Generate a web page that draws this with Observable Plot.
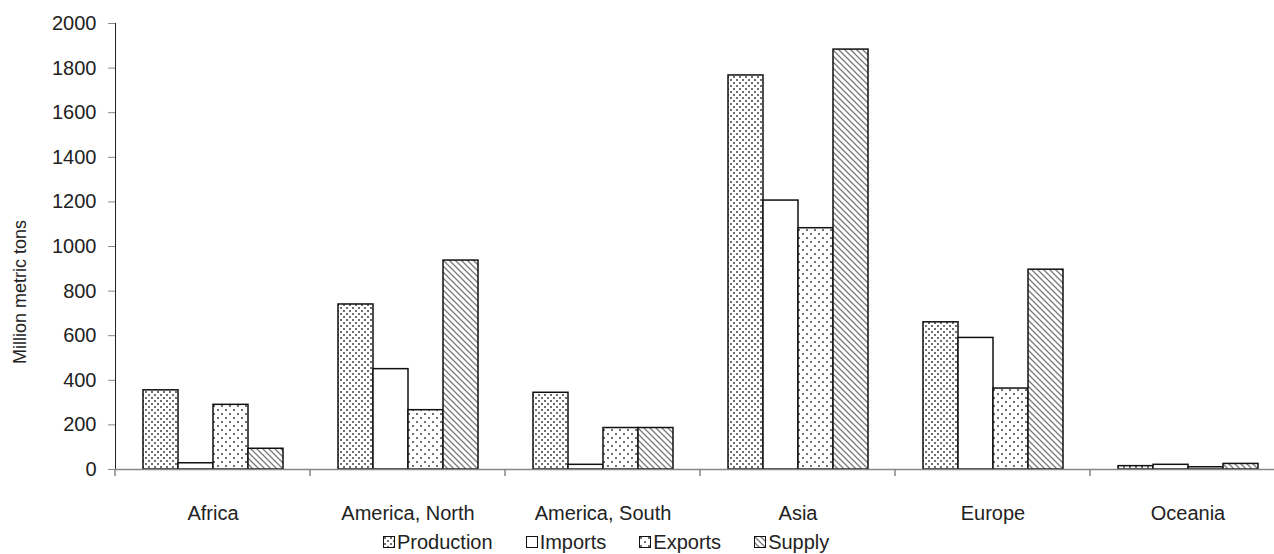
<!DOCTYPE html>
<html>
<head>
<meta charset="utf-8">
<script src="https://cdn.jsdelivr.net/npm/d3@7"></script>
<script src="https://cdn.jsdelivr.net/npm/@observablehq/plot@0.6"></script>
<style>
  html, body { margin: 0; padding: 0; background: #fff; overflow: hidden; }
  body { font-family: "Liberation Sans", Arial, sans-serif; color: #222; }
  #legend { width: 1274px; height: 24px; box-sizing: border-box; padding-left: 383px; display: flex; justify-content: flex-start; align-items: center; gap: 33px; font-size: 20px; line-height: 24px; }
  .item { display: flex; align-items: center; gap: 2px; }
  .item svg { display: block; }
  [aria-label^="y-axis"] path, [aria-label^="y-axis"] line, g[aria-label="y-axis tick"] { stroke: #868686; }
</style>
</head>
<body>
<svg width="0" height="0" style="position:absolute">
  <defs>
    <pattern id="p-Production" width="6" height="6" patternUnits="userSpaceOnUse">
      <rect width="6" height="6" fill="#fff"/>
      <rect x="1" y="1" width="2" height="2" fill="#707070"/>
      <rect x="4" y="4" width="2" height="2" fill="#707070"/>
    </pattern>
    <pattern id="p-Imports" width="6" height="6" patternUnits="userSpaceOnUse">
      <rect width="6" height="6" fill="#fff"/>
    </pattern>
    <pattern id="p-Exports" width="8" height="8" patternUnits="userSpaceOnUse">
      <rect width="8" height="8" fill="#fff"/>
      <rect x="1" y="1" width="2" height="2" fill="#707070"/>
      <rect x="5" y="5" width="2" height="2" fill="#707070"/>
    </pattern>
    <pattern id="p-Supply" width="6" height="6" patternUnits="userSpaceOnUse">
      <rect width="6" height="6" fill="#fff"/>
      <path d="M-1,-1L7,7M-1,5L1,7M5,-1L7,1" stroke="#7a7a7a" stroke-width="1.3"/>
    </pattern>
  </defs>
</svg>
<div id="chart"></div>
<div id="legend"></div>
<script>
const regions = ["Africa", "America, North", "America, South", "Asia", "Europe", "Oceania"];
const series = ["Production", "Imports", "Exports", "Supply"];
const production = [355, 740, 344, 1767, 660, 15];
const imports = [28, 450, 21, 1206, 590, 21];
const exportsV = [290, 266, 186, 1082, 363, 10];
const supply = [93, 937, 186, 1883, 896, 25];
const yTicks = [0, 200, 400, 600, 800, 1000, 1200, 1400, 1600, 1800, 2000];
const yLabel = "Million metric tons";

const columns = [production, imports, exportsV, supply];
const data = regions.flatMap((r, i) => series.map((s, j) => ({region: r, series: s, value: columns[j][i]})));

const chart = Plot.plot({
  width: 1285,
  height: 530,
  marginLeft: 115,
  marginRight: 0,
  marginTop: 23,
  marginBottom: 61,
  style: {fontFamily: "'Liberation Sans', Arial, sans-serif", fontSize: "20px", color: "#222", maxWidth: "none", overflow: "hidden", background: "#fff"},
  facet: {data, x: "region"},
  fx: {domain: regions, paddingInner: 0, paddingOuter: 0, label: null, axis: "bottom", tickSize: 0, tickPadding: 36},
  x: {domain: series, paddingInner: 0, paddingOuter: 0.746, axis: null},
  y: {domain: [0, 2000], ticks: yTicks, tickFormat: d => String(d), tickSize: 7, tickPadding: 12, label: null, line: true},
  color: {type: "identity"},
  marks: [
    Plot.barY(data, {x: "series", y: "value", fill: d => `url(#p-${d.series})`, stroke: "#111", strokeWidth: 1.5}),
    Plot.ruleY([0], {stroke: "#868686", strokeWidth: 1.5})
  ]
});
document.getElementById("chart").appendChild(chart);

const svg = d3.select(chart);
// category separator ticks below the axis, from the fx scale
const fx = chart.scale("fx");
const step = (fx.range[1] - fx.range[0]) / fx.domain.length;
const bounds = fx.domain.map((d, i) => fx.range[0] + i * step).concat([fx.range[1]]);
const y = chart.scale("y");
const y0 = y.apply ? y.apply(0) : 469;
svg.append("g").selectAll("line").data(bounds).join("line")
  .attr("x1", d => d).attr("x2", d => d)
  .attr("y1", y0).attr("y2", y0 + 7)
  .attr("stroke", "#868686").attr("stroke-width", 1.5);

// y-axis title
svg.append("text")
  .attr("transform", "translate(20,292) rotate(-90)")
  .attr("text-anchor", "middle")
  .attr("dy", "0.35em")
  .attr("fill", "#222")
  .style("font-size", "18px")
  .text(yLabel);

// legend
const legend = d3.select("#legend");
series.forEach(s => {
  const it = legend.append("div").attr("class", "item");
  const sw = it.append("svg").attr("width", 12).attr("height", 12);
  sw.append("rect").attr("x", 0.5).attr("y", 0.5).attr("width", 11).attr("height", 11)
    .attr("fill", `url(#p-${s})`).attr("stroke", "#111").attr("stroke-width", 1);
  it.append("span").text(s);
});
</script>
</body>
</html>
